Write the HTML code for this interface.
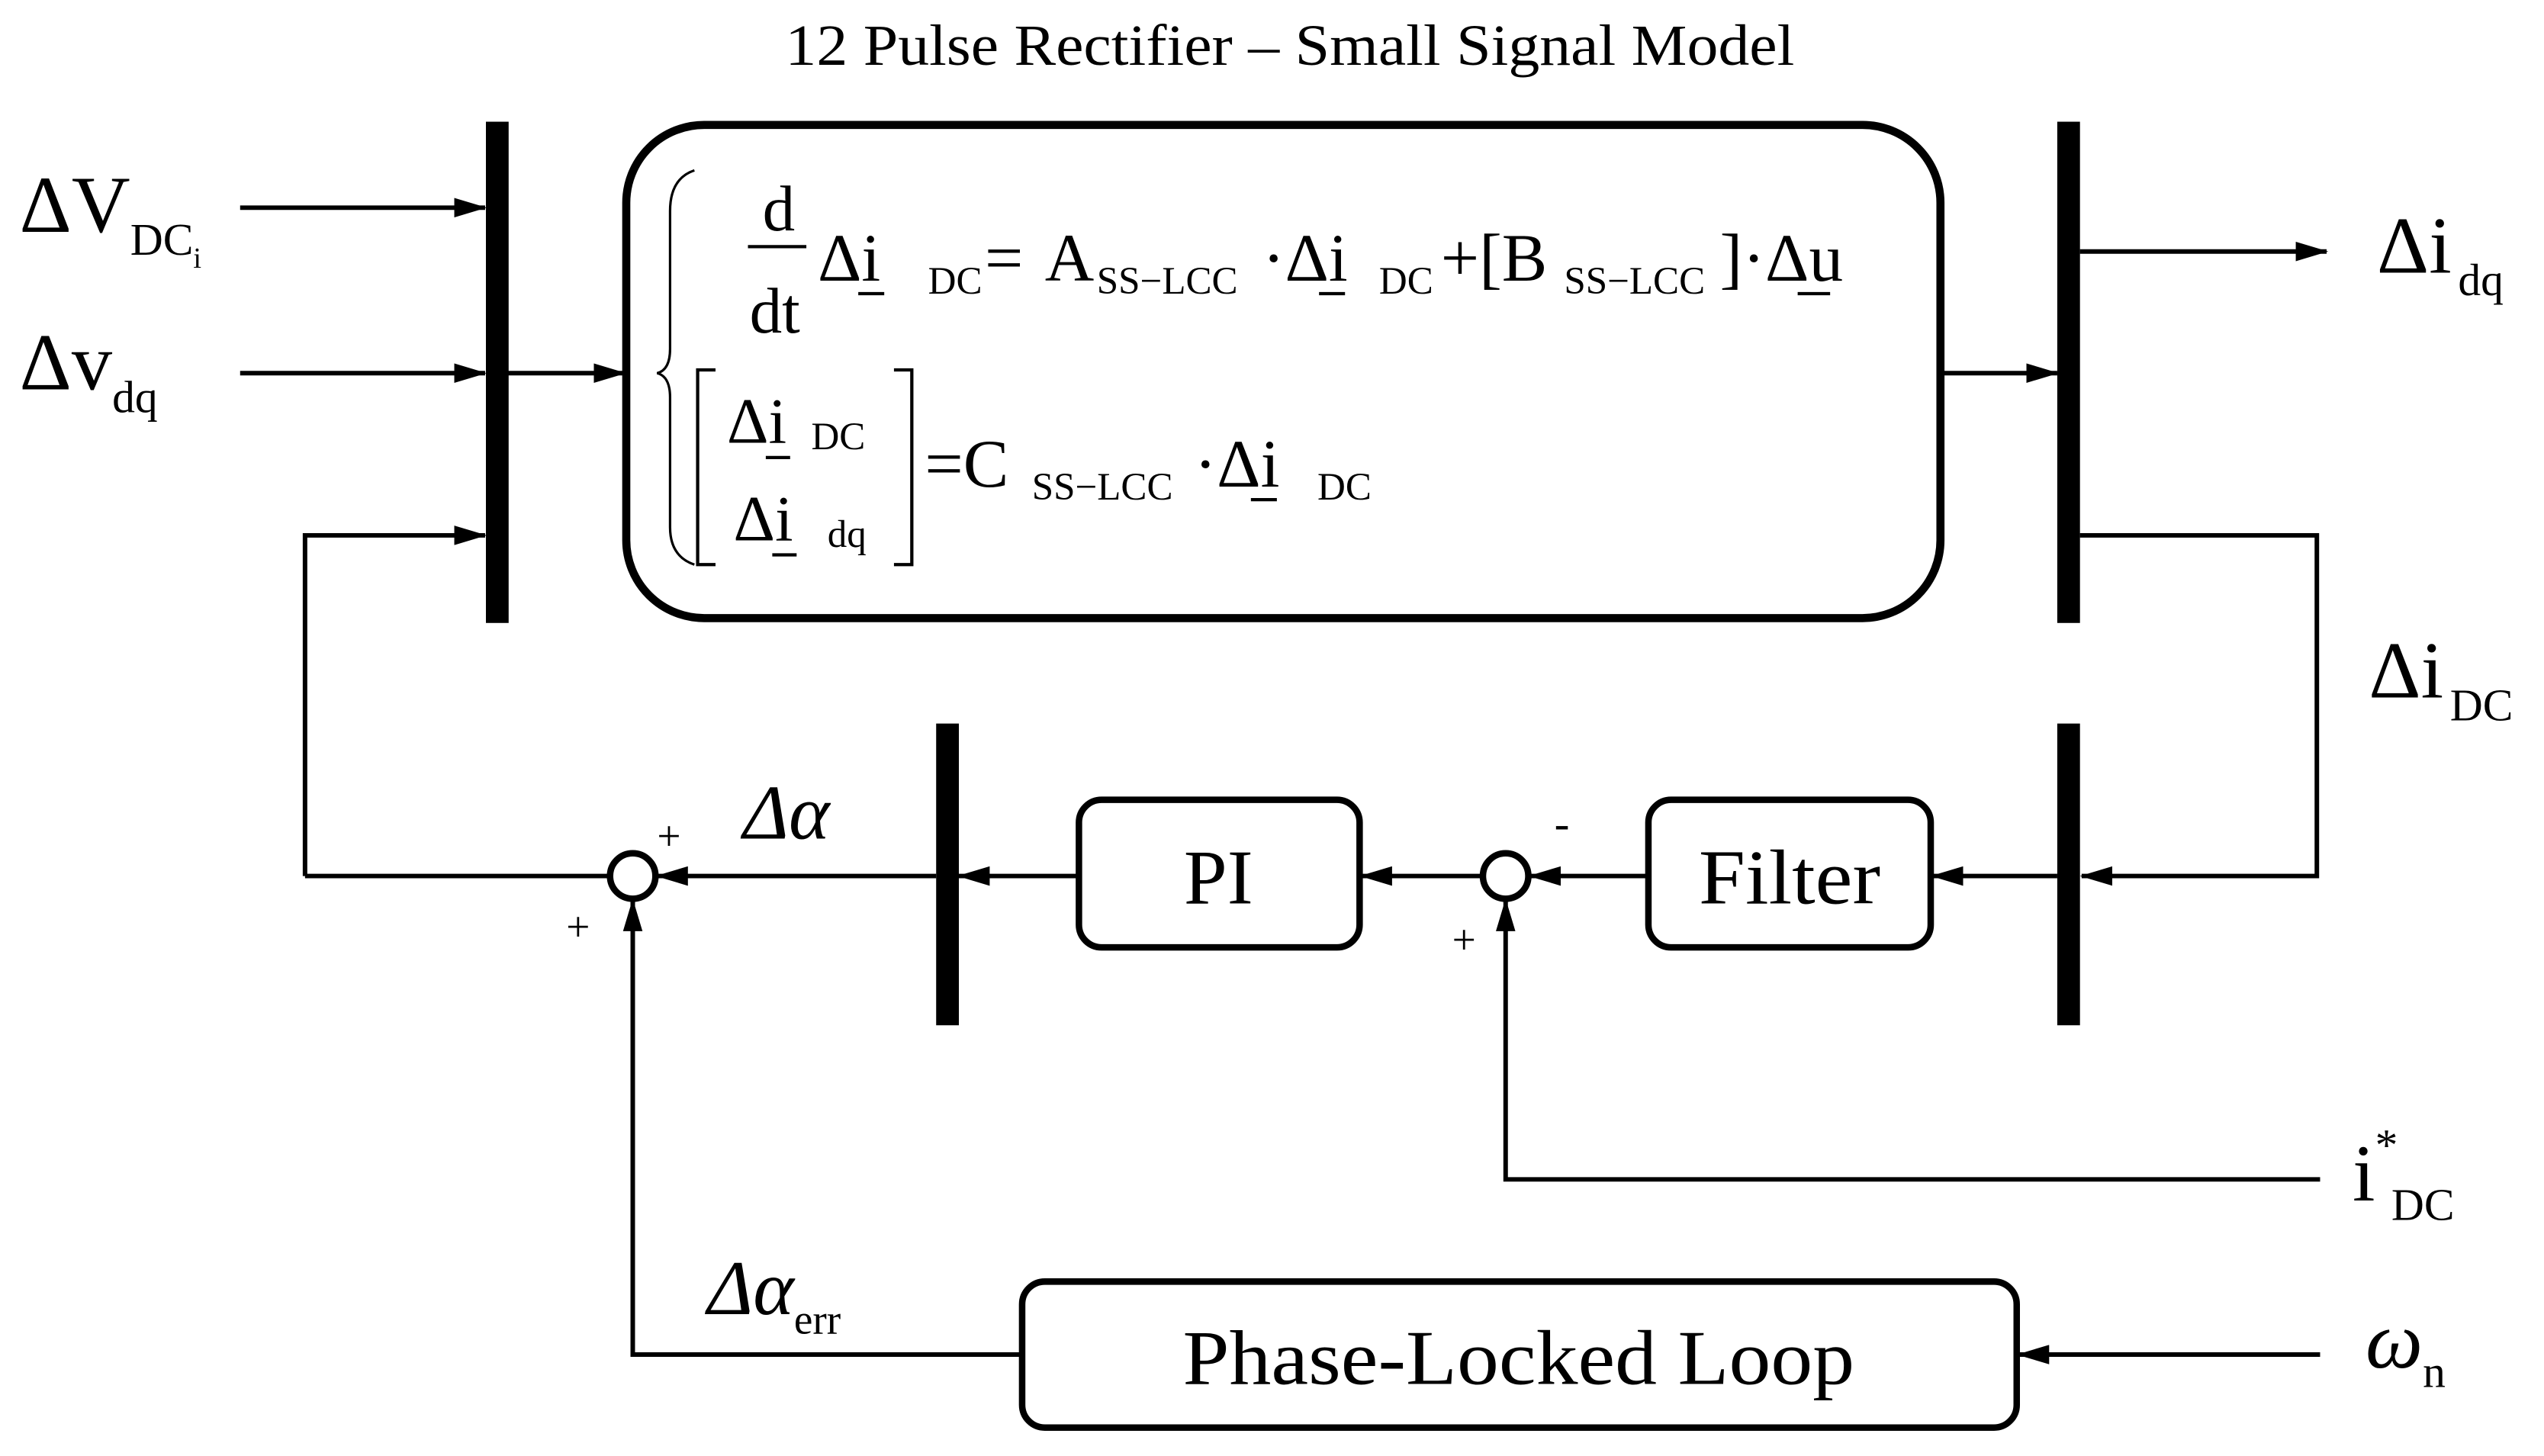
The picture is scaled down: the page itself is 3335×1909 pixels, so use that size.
<!DOCTYPE html>
<html><head><meta charset="utf-8"><style>
html,body{margin:0;padding:0;background:#fff;}
svg{display:block;}
text{font-family:"Liberation Serif",serif;fill:#000;}
</style></head><body>
<svg width="3335" height="1909" viewBox="0 0 1568 897.5" xmlns="http://www.w3.org/2000/svg">
<defs>
<marker id="b" markerWidth="20" markerHeight="12" refX="19" refY="6" orient="auto" markerUnits="userSpaceOnUse">
<path d="M0,0 L20,6 L0,12 Z" fill="#000"/></marker>
</defs>
<text x="795" y="40" font-size="36" text-anchor="middle" textLength="622" lengthAdjust="spacingAndGlyphs">12 Pulse Rectifier – Small Signal Model</text>

<rect x="299.5" y="75" width="14" height="309" fill="#000"/>
<rect x="1268" y="75" width="14" height="309" fill="#000"/>
<rect x="577" y="446" width="14" height="186" fill="#000"/>
<rect x="1268" y="446" width="14" height="186" fill="#000"/>

<rect x="386" y="77" width="810" height="304" rx="48" fill="none" stroke="#000" stroke-width="5"/>

<g stroke="#000" stroke-width="2.8" fill="none">
<line x1="148" y1="128" x2="299" y2="128" marker-end="url(#b)"/>
<line x1="148" y1="230" x2="299" y2="230" marker-end="url(#b)"/>
<polyline points="188,540 188,330 299,330" marker-end="url(#b)"/>
<line x1="313" y1="230" x2="385" y2="230" marker-end="url(#b)"/>
<line x1="1197" y1="230" x2="1268" y2="230" marker-end="url(#b)"/>
<line x1="1282" y1="155" x2="1434" y2="155" marker-end="url(#b)"/>
<polyline points="1282,330 1428,330 1428,540 1283,540" marker-end="url(#b)"/>
<line x1="1268" y1="540" x2="1191" y2="540" marker-end="url(#b)"/>
<line x1="1016" y1="540" x2="943" y2="540" marker-end="url(#b)"/>
<line x1="914" y1="540" x2="839" y2="540" marker-end="url(#b)"/>
<line x1="665" y1="540" x2="591" y2="540" marker-end="url(#b)"/>
<line x1="577" y1="540" x2="405" y2="540" marker-end="url(#b)"/>
<line x1="376" y1="540" x2="188" y2="540"/>
<polyline points="1430,727 928,727 928,555" marker-end="url(#b)"/>
<polyline points="630,835 390,835 390,555" marker-end="url(#b)"/>
<line x1="1430" y1="835" x2="1244" y2="835" marker-end="url(#b)"/>
</g>
<g stroke="#000" stroke-width="4" fill="#fff">
<circle cx="390" cy="540" r="14"/>
<circle cx="928" cy="540" r="14"/>
<rect x="665" y="493" width="173" height="91" rx="14"/>
<rect x="1016" y="493" width="174" height="91" rx="14"/>
<rect x="630" y="790" width="613" height="90" rx="14"/>
</g>
<text x="751" y="557" font-size="48" text-anchor="middle">PI</text>
<text x="1103" y="557" font-size="48" text-anchor="middle" textLength="112" lengthAdjust="spacingAndGlyphs">Filter</text>
<text x="936" y="853" font-size="48" text-anchor="middle" textLength="414" lengthAdjust="spacingAndGlyphs">Phase-Locked Loop</text>

<text x="405" y="524" font-size="26">+</text>
<text x="349" y="580" font-size="26">+</text>
<text x="958" y="517" font-size="28">-</text>
<text x="895" y="588" font-size="26">+</text>

<text x="12" y="143" font-size="50">ΔV<tspan font-size="28" dy="14">DC</tspan><tspan font-size="18" dy="8">i</tspan></text>
<text x="12" y="240" font-size="50">Δv<tspan font-size="28" dy="14">dq</tspan></text>
<text x="1465" y="168" font-size="50">Δi<tspan font-size="28" dy="14" dx="4">dq</tspan></text>
<text x="1460" y="430" font-size="50">Δi<tspan font-size="28" dy="14" dx="4">DC</tspan></text>
<text x="458" y="517" font-size="48" font-style="italic">Δα</text>
<text x="436" y="810" font-size="48" font-style="italic">Δα<tspan font-size="26" dy="12" font-style="normal">err</tspan></text>
<text x="1450" y="740" font-size="50">i<tspan font-size="28" dy="-25">*</tspan><tspan font-size="28" dy="37" dx="-4">DC</tspan></text>
<text x="1458" y="843" font-size="50" font-style="italic">ω<tspan font-size="28" dy="12" font-style="normal">n</tspan></text>

<path d="M428,105 Q413,110 413,130 L413,215 Q413,228 405,230 Q413,232 413,245 L413,325 Q413,343 428,348" fill="none" stroke="#000" stroke-width="1.5"/>
<text x="470" y="142" font-size="40">d</text>
<line x1="461" y1="152" x2="497" y2="152" stroke="#000" stroke-width="2"/>
<text x="462" y="205" font-size="40">dt</text>
<text x="504" y="173" font-size="42">Δi<tspan x="572" dy="8" font-size="24">DC</tspan><tspan x="607" dy="-8" font-size="42">=</tspan><tspan x="644" font-size="42">A</tspan><tspan x="676" dy="8" font-size="24">SS−LCC</tspan><tspan x="778" dy="-8" font-size="42">·Δi</tspan><tspan x="850" dy="8" font-size="24">DC</tspan><tspan x="888" dy="-8" font-size="42">+[B</tspan><tspan x="964" dy="8" font-size="24">SS−LCC</tspan><tspan x="1060" dy="-8" font-size="42">]·Δu</tspan></text>
<g stroke="#000" stroke-width="2">
<line x1="529" y1="181" x2="545" y2="181"/>
<line x1="813" y1="181" x2="829" y2="181"/>
<line x1="1108" y1="181" x2="1128" y2="181"/>
<line x1="472" y1="282" x2="487" y2="282"/>
<line x1="476" y1="342" x2="491" y2="342"/>
<line x1="771" y1="308" x2="787" y2="308"/>
</g>
<path d="M441,228 L430,228 L430,348 L441,348 M551,228 L562,228 L562,348 L551,348" fill="none" stroke="#000" stroke-width="2"/>
<text x="448" y="273" font-size="40">Δi<tspan x="500" dy="4" font-size="24">DC</tspan></text>
<text x="452" y="333" font-size="40">Δi<tspan x="510" dy="4" font-size="24">dq</tspan></text>
<text x="570" y="300" font-size="42">=C<tspan x="636" dy="8" font-size="24">SS−LCC</tspan><tspan x="736" dy="-8" font-size="42">·Δi</tspan><tspan x="812" dy="8" font-size="24">DC</tspan></text>
</svg>
</body></html>
